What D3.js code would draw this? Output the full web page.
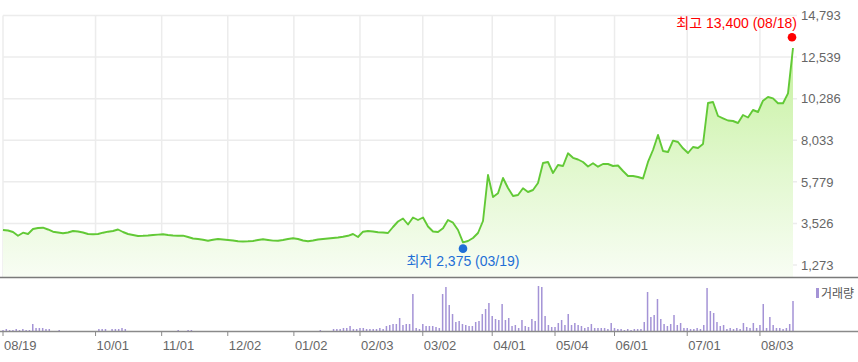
<!DOCTYPE html>
<html>
<head>
<meta charset="utf-8">
<script src="https://cdn.jsdelivr.net/npm/d3@7/dist/d3.min.js"></script>
<style>
  body { margin: 0; background: #fff; }
  text { font-family: "Liberation Sans", "Noto Sans CJK KR", sans-serif; }
</style>
</head>
<body>
<div id="chart"></div>
<script>
// closing price, sampled every ~1.5 trading days (08/19 .. 08/18)
const priceClose = [
  3170, 3143, 3061, 2861, 3023, 2953, 3224, 3278, 3294, 3197,
  3078, 3034, 2991, 3034, 3115, 3088, 3034, 2953, 2937, 2953,
  3023, 3078, 3115, 3197, 3061, 2953, 2899, 2845, 2855, 2872,
  2899, 2920, 2937, 2899, 2872, 2861, 2861, 2790, 2709, 2682,
  2644, 2590, 2644, 2682, 2655, 2628, 2601, 2557, 2547, 2557,
  2574, 2628, 2666, 2628, 2595, 2584, 2628, 2682, 2720, 2682,
  2601, 2560, 2601, 2655, 2682, 2709, 2736, 2763, 2801, 2855,
  2953, 2790, 3078, 3115, 3088, 3045, 3034, 3007, 3332, 3630,
  3793, 3468, 3847, 3712, 3847, 3359, 3088, 3061, 3262, 3712,
  3565, 3170, 2500, 2574, 2736, 3007, 3657, 6150, 4958, 5158,
  5988, 5446, 5012, 5066, 5429, 5229, 5337, 5717, 6800, 6855,
  6258, 6692, 6638, 7326, 7082, 6990, 6855, 6611, 6784, 6600,
  6746, 6746, 6638, 6665, 6367, 6096, 6096, 6042, 5960, 6855,
  7505, 8318, 7451, 7396, 8009, 7938, 7597, 7342, 7667, 7613,
  7830, 10052, 10106, 9347, 9223, 9103, 9076, 8968, 9402, 9266,
  9672, 9564, 10176, 10377, 10306, 10036, 10036, 10577, 13032
]

// daily volume (relative units), one per trading day
const volume = [
  1, 2, 1, 1, 2, 1, 2, 1, 1, 7,
  3, 3, 3, 2, 2, 0, 0, 1, 0, 0,
  0, 0, 0, 0, 0, 0, 0, 0, 0, 2,
  2, 2, 0, 2, 2, 2, 3, 2, 0, 0,
  0, 0, 0, 0, 0, 0, 0, 0, 0, 0,
  0, 0, 0, 1, 0, 0, 1, 1, 0, 0,
  0, 0, 0, 0, 0, 0, 0, 0, 0, 0,
  0, 0, 0, 0, 0, 0, 0, 0, 0, 0,
  0, 0, 0, 0, 0, 0, 0, 0, 0, 0,
  0, 0, 0, 0, 0, 0, 1, 0, 0, 0,
  2, 2, 2, 3, 3, 5, 2, 2, 3, 3,
  2, 2, 2, 2, 3, 2, 5, 6, 7, 7,
  13, 6, 7, 7, 37, 3, 2, 7, 5, 5,
  5, 4, 3, 37, 44, 26, 17, 9, 10, 7,
  6, 5, 5, 9, 10, 17, 22, 28, 15, 12,
  11, 27, 11, 13, 5, 6, 3, 11, 5, 4,
  12, 10, 45, 44, 15, 6, 4, 4, 8, 11,
  6, 17, 6, 8, 6, 5, 3, 4, 7, 3,
  3, 3, 3, 2, 8, 3, 2, 2, 1, 2,
  1, 2, 2, 2, 9, 39, 14, 16, 32, 12,
  7, 5, 7, 16, 6, 8, 3, 3, 2, 2,
  3, 2, 6, 43, 20, 18, 9, 5, 6, 2,
  3, 2, 3, 2, 8, 4, 3, 8, 3, 6,
  27, 3, 14, 6, 3, 3, 2, 3, 7, 30
]

const priceTicks = [1273, 3526, 5779, 8033, 10286, 12539, 14793]
const dateLabels = ["08/19", "10/01", "11/01", "12/02", "01/02", "02/03", "03/02", "04/01", "05/04", "06/01", "07/01", "08/03"]
const dateDays   = [0, 28, 48, 68, 88, 108, 127, 148, 167, 185, 207, 229]

const highPrice = 13400
const highDate = "08/18"
const lowPrice = 2375
const lowDate = "03/19"

//Create chart dimensions
const dimensions = {
  width: 858,
  height: 362,
  plotLeft: 3,
  plotRight: 797,
  lineRight: 793,
  priceTop: 15.5,
  priceBottom: 265,
  panelBottom: 277,
  volTop: 286,
  volBase: 331,
}

//Draw canvas
const wrapper = d3.select("#chart")
  .append("svg")
  .attr("width", dimensions.width)
  .attr("height", dimensions.height)

//Create scales
const xPrice = d3.scaleLinear()
  .domain([0, priceClose.length - 1])
  .range([dimensions.plotLeft, dimensions.lineRight])

const xDay = d3.scaleLinear()
  .domain([0, volume.length - 1])
  .range([dimensions.plotLeft, dimensions.lineRight])

const yPrice = d3.scaleLinear()
  .domain([priceTicks[0], priceTicks[priceTicks.length - 1]])
  .range([dimensions.priceBottom, dimensions.priceTop])

const yVol = d3.scaleLinear()
  .domain([0, d3.max(volume)])
  .range([dimensions.volBase, dimensions.volTop])

// gradient for the area
const defs = wrapper.append("defs")
const grad = defs.append("linearGradient")
  .attr("id", "priceFill")
  .attr("gradientUnits", "userSpaceOnUse")
  .attr("x1", 0).attr("x2", 0)
  .attr("y1", yPrice(highPrice))
  .attr("y2", dimensions.panelBottom)
grad.append("stop").attr("offset", "0%").attr("stop-color", "#c4f09c")
grad.append("stop").attr("offset", "55%").attr("stop-color", "#e2f8cf")
grad.append("stop").attr("offset", "100%").attr("stop-color", "#f8fdf4")

//Draw grid
const grid = wrapper.append("g")
grid.selectAll(".hgrid")
  .data(priceTicks)
  .join("line")
    .attr("x1", dimensions.plotLeft)
    .attr("x2", dimensions.plotRight)
    .attr("y1", d => yPrice(d))
    .attr("y2", d => yPrice(d))
    .attr("stroke", "#ececec")
    .attr("stroke-width", 1.5)

grid.selectAll(".vgrid")
  .data(dateDays)
  .join("line")
    .attr("x1", d => xDay(d))
    .attr("x2", d => xDay(d))
    .attr("y1", dimensions.priceTop)
    .attr("y2", dimensions.panelBottom)
    .attr("stroke", "#ececec")
    .attr("stroke-width", 1.5)

//Draw data
const area = d3.area()
  .x((d, i) => xPrice(i))
  .y0(dimensions.panelBottom)
  .y1(d => yPrice(d))

wrapper.append("path")
  .datum(priceClose)
  .attr("d", area)
  .attr("fill", "url(#priceFill)")

const line = d3.line()
  .x((d, i) => xPrice(i))
  .y(d => yPrice(d))

wrapper.append("path")
  .datum(priceClose)
  .attr("d", line)
  .attr("fill", "none")
  .attr("stroke", "#62c936")
  .attr("stroke-width", 1.9)
  .attr("stroke-linejoin", "round")

// panel separators
wrapper.append("line")
  .attr("x1", 0).attr("x2", dimensions.width)
  .attr("y1", dimensions.panelBottom + 0.5).attr("y2", dimensions.panelBottom + 0.5)
  .attr("stroke", "#7a7a7a")
  .attr("stroke-width", 1.5)

// volume bars
wrapper.append("g")
  .selectAll("rect")
  .data(volume)
  .join("rect")
    .attr("x", (d, i) => xDay(i) - 0.75)
    .attr("width", 1.5)
    .attr("y", d => yVol(d))
    .attr("height", d => dimensions.volBase - yVol(d))
    .attr("fill", "#a493d6")

wrapper.append("line")
  .attr("x1", 0).attr("x2", dimensions.width)
  .attr("y1", dimensions.volBase + 0.5).attr("y2", dimensions.volBase + 0.5)
  .attr("stroke", "#8a8a8a")
  .attr("stroke-width", 1.5)

//Draw peripherals
const xAxis = wrapper.append("g")
xAxis.selectAll(".tick")
  .data(dateDays)
  .join("line")
    .attr("x1", d => xDay(d))
    .attr("x2", d => xDay(d))
    .attr("y1", dimensions.volBase)
    .attr("y2", dimensions.volBase + 5)
    .attr("stroke", "#8a8a8a")

xAxis.selectAll("text")
  .data(dateDays)
  .join("text")
    .text((d, i) => dateLabels[i])
    .attr("x", d => xDay(d) + 1)
    .attr("y", 350)
    .attr("font-size", 13)
    .attr("fill", "#666")

wrapper.append("g")
  .selectAll("text")
  .data(priceTicks)
  .join("text")
    .text(d => d3.format(",")(d))
    .attr("x", 801)
    .attr("y", d => yPrice(d))
    .attr("dy", "0.36em")
    .attr("font-size", 13)
    .attr("fill", "#666")

// legend
wrapper.append("rect")
  .attr("x", 816).attr("y", 288)
  .attr("width", 3).attr("height", 10)
  .attr("fill", "#a493d6")
wrapper.append("text")
  .text("거래량")
  .attr("x", 821).attr("y", 298)
  .attr("font-size", 12)
  .attr("fill", "#555")

// high / low markers
const hiIndex = d3.maxIndex(priceClose)
const loIndex = d3.minIndex(priceClose)

wrapper.append("circle")
  .attr("cx", xPrice(hiIndex) - 1)
  .attr("cy", yPrice(highPrice) - 4)
  .attr("r", 4.3)
  .attr("fill", "#ff0000")

wrapper.append("text")
  .text(`최고 ${d3.format(",")(highPrice)} (${highDate})`)
  .attr("x", dimensions.plotRight)
  .attr("y", yPrice(highPrice) - 13.5)
  .attr("text-anchor", "end")
  .attr("font-size", 14)
  .attr("fill", "#ff0000")

wrapper.append("circle")
  .attr("cx", xPrice(loIndex))
  .attr("cy", yPrice(lowPrice) + 4)
  .attr("r", 4.3)
  .attr("fill", "#1f6fd6")

wrapper.append("text")
  .text(`최저 ${d3.format(",")(lowPrice)} (${lowDate})`)
  .attr("x", xPrice(loIndex))
  .attr("y", yPrice(lowPrice) + 21)
  .attr("text-anchor", "middle")
  .attr("font-size", 14)
  .attr("fill", "#1f6fd6")
</script>
</body>
</html>
